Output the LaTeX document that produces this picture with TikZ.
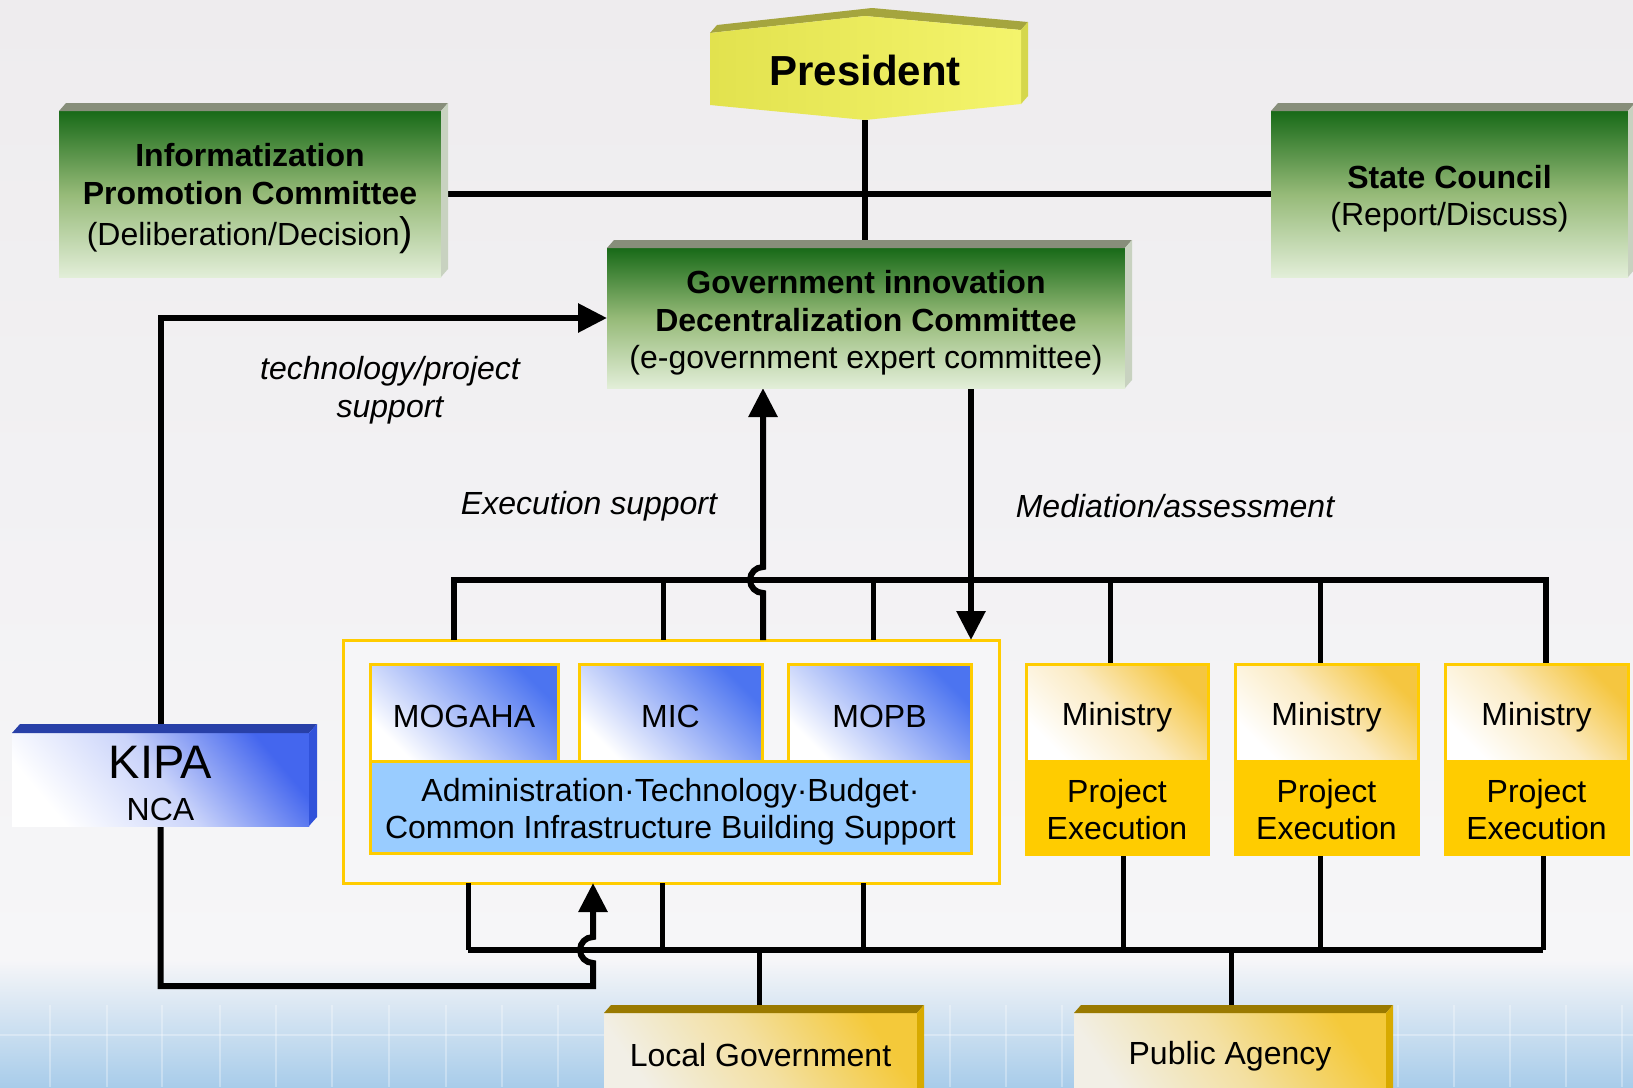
\documentclass[tikz,border=0pt]{standalone}
\usepackage{fontspec}
\setmainfont{Liberation Sans}
\usetikzlibrary{arrows.meta}
\definecolor{gtop}{HTML}{186A18}
\definecolor{gmid}{HTML}{96BA78}
\definecolor{gbot}{HTML}{E2EED8}
\definecolor{gbev}{HTML}{878E7A}
\definecolor{gside}{HTML}{C8D2C0}
\definecolor{gold}{HTML}{FFCC00}
\definecolor{bblue}{HTML}{4C74F0}
\definecolor{kblue}{HTML}{4466EE}
\definecolor{kbev}{HTML}{2840A8}
\definecolor{kside}{HTML}{3152DA}
\definecolor{lblue}{HTML}{99CCFF}
\definecolor{mgold}{HTML}{F5C640}
\definecolor{mlight}{HTML}{FBEBC4}
\definecolor{ybev}{HTML}{9A7A00}
\definecolor{yside}{HTML}{D8AA00}
\definecolor{ycream}{HTML}{F2EFE6}
\definecolor{ygold}{HTML}{F4C93A}
\definecolor{pleft}{HTML}{E2E24E}
\definecolor{pright}{HTML}{F4F46C}
\definecolor{pbev}{HTML}{A5A53E}
\definecolor{pside}{HTML}{D5D74C}
\definecolor{bgtop}{HTML}{EEECEE}
\definecolor{bgmid}{HTML}{F6F6F8}
\definecolor{bgbot}{HTML}{A8CCEA}
\newcommand\myfont[1]{\fontsize{#1}{37.5}\selectfont}
\newcommand\upstrut{\rule{0pt}{33pt}}
\newcommand\bevelbox[5]{%
  \fill[#4] (#1.north west) -- ++(#2,#3) -- ([shift={(#2,#3)}]#1.north east) -- (#1.north east) -- cycle;
  \fill[#5] (#1.north east) -- ++(#2,#3) -- ([shift={(#2,#3)}]#1.south east) -- (#1.south east) -- cycle;}
\begin{document}
\begin{tikzpicture}[x=1pt,y=1pt,
  box/.style={rectangle, inner sep=0pt, outer sep=0pt, align=center, font=\myfont{32}},
  greenbox/.style={box, top color=gtop, bottom color=gbot, middle color=gmid},
  bluebox/.style={box, draw=gold, line width=3pt, top color=bblue, bottom color=white, shading angle=-45},
  kipabox/.style={box, top color=kblue, bottom color=white, middle color=kblue!28!white, shading angle=-50},
  minbox/.style={box, draw=gold, line width=3pt, top color=mgold, bottom color=white, middle color=mlight, shading angle=-45},
  pebox/.style={box, fill=gold, draw=gold, line width=3pt},
  adminbox/.style={box, fill=lblue, draw=gold, line width=3pt},
  contbox/.style={box, fill=bgmid, draw=gold, line width=3pt},
  ybox/.style={box, top color=ygold, bottom color=ycream, middle color=ygold!40!ycream, shading angle=-55},
  conn/.style={line width=6pt},
  drop/.style={line width=5pt},
  busline/.style={line width=6.5pt},
  arr/.style={-{Triangle[length=29pt,width=28pt]}},
  lbl/.style={font=\myfont{32}\itshape, align=center}]
\useasboundingbox (0,0) rectangle (1633,-1087);
\clip (0,0) rectangle (1633,-1087);
% background
\fill[bgtop] (0,0) rectangle (1633,-1087);
\shade[top color=bgtop, bottom color=bgmid] (0,0) rectangle (1633,-960);
\shade[top color=bgmid, bottom color=bgbot] (0,-960) rectangle (1633,-1087);
\foreach \gx in {50,107,162,220,276,332,389,446,502,558,614,670,726,782,838,894,950,1006,1062,1118,1174,1230,1286,1342,1398,1454,1510,1566,1622}
  \draw[white, opacity=0.3, line width=1.5pt] (\gx,-1005) -- (\gx,-1087);
\draw[white, opacity=0.3, line width=1.5pt] (0,-1035) -- (1633,-1035);

% president shape
\fill[pbev] (710,-33) -- (717,-25) -- (872,-8) -- (1028,-22) -- (1021,-30) -- (865,-16) -- cycle;
\fill[pside] (1021,-30) -- (1028,-22) -- (1028,-96) -- (1021,-104) -- cycle;
\shade[left color=pleft, right color=pright] (710,-33) -- (865,-16) -- (1021,-30) -- (1021,-104) -- (865,-120) -- (710,-105) -- cycle;
\node[box, font=\fontsize{42}{42}\selectfont\bfseries, minimum width=311pt, minimum height=100pt] (pres) at (865,-70) {President};

% coordinates
\coordinate (tA) at (454,-580);
\coordinate (tB) at (663,-580);
\coordinate (tC) at (873,-580);
\coordinate (tD) at (1110,-580);
\coordinate (tE) at (1320,-580);
\coordinate (tF) at (1546,-580);
\coordinate (bA) at (468,-950);
\coordinate (bB) at (662,-950);
\coordinate (bC) at (863,-950);
\coordinate (bD) at (1123,-950);
\coordinate (bE) at (1320,-950);
\coordinate (bF) at (1543,-950);
\coordinate (bL) at (759,-950);
\coordinate (bP) at (1231,-950);
\coordinate (upx) at (763,0);
\coordinate (dnx) at (971,0);
\coordinate (kc) at (593,-986);

% nodes (positions)
\path
 node[greenbox, minimum width=382pt, minimum height=166pt] (info) at (250,-194) {}
 node[greenbox, minimum width=357pt, minimum height=166pt] (state) at (1449.5,-194) {}
 node[greenbox, minimum width=518pt, minimum height=140pt] (gov) at (866,-318) {}
 node[kipabox, minimum width=297pt, minimum height=93pt] (kipa) at (160.5,-779.5) {}
 node[contbox, minimum width=656pt, minimum height=243pt] (cont) at (671,-761.5) {}
 node[ybox, minimum width=313pt, minimum height=87pt] (local) at (760.5,-1056.5) {}
 node[ybox, minimum width=312pt, minimum height=87pt] (public) at (1230,-1056.5) {};

% connectors
\draw[conn] (pres.south) -- (pres.south |- gov.north);
\draw[conn] (info.east) -- (state.west);
\draw[conn, arr] (kipa.north) |- (gov.west);
\draw[conn, arr] (upx |- cont.north) -- ++(0,47) arc[start angle=-90, end angle=-270, radius=13] -- (upx |- gov.south);
\draw[conn, arr] (dnx |- gov.south) -- (dnx |- cont.north);
\draw[conn] (tA |- cont.north) -- (tA) -- (tF) -- ([yshift=-84pt]tF);
\draw[drop] (tB) -- (tB |- cont.north);
\draw[drop] (tC) -- (tC |- cont.north);
\draw[drop] (tD) -- ([yshift=-84pt]tD);
\draw[drop] (tE) -- ([yshift=-84pt]tE);
\draw[busline] (bA) -- (bF);
\draw[drop] (bA) -- (bA |- cont.south);
\draw[drop] (bB) -- (bB |- cont.south);
\draw[drop] (bC) -- (bC |- cont.south);
\draw[drop] (bD) -- ([yshift=96pt]bD);
\draw[drop] (bE) -- ([yshift=96pt]bE);
\draw[drop] (bF) -- ([yshift=96pt]bF);
\draw[drop] (bL) -- (bL |- local.north);
\draw[drop] (bP) -- (bP |- public.north);
\draw[conn, arr] (kipa.south) |- (kc) -- ++(0,23) arc[start angle=-90, end angle=-270, radius=13] -- (kc |- cont.south);

% boxes
\node[greenbox, minimum width=382pt, minimum height=166pt] (info) at (250,-194)
 {\upstrut\textbf{Informatization}\\\textbf{Promotion Committee}\\[4pt](Deliberation/Decision{\fontsize{40}{40}\selectfont)}};
\bevelbox{info}{7}{8}{gbev}{gside}
\node[greenbox, minimum width=357pt, minimum height=166pt] (state) at (1449.5,-194)
 {\upstrut\textbf{State Council}\\(Report/Discuss)};
\bevelbox{state}{7}{8}{gbev}{gside}
\node[greenbox, minimum width=518pt, minimum height=140pt] (gov) at (866,-318)
 {\upstrut\textbf{Government innovation}\\\textbf{Decentralization Committee}\\(e-government expert committee)};
\bevelbox{gov}{7}{8}{gbev}{gside}
\node[kipabox, minimum width=297pt, minimum height=93pt] (kipa) at (160.5,-779.5)
 {\rule{0pt}{40pt}{\fontsize{47}{47}\selectfont KIPA}\\[5pt]NCA};
\bevelbox{kipa}{8}{9}{kbev}{kside}

\node[bluebox, minimum width=188pt, minimum height=97pt] (mog) at (464,-712.5) {\rule{0pt}{30pt}MOGAHA};
\node[bluebox, minimum width=183pt, minimum height=97pt] (mic) at (670.5,-712.5) {\rule{0pt}{30pt}MIC};
\node[bluebox, minimum width=183pt, minimum height=97pt] (mopb) at (879.5,-712.5) {\rule{0pt}{30pt}MOPB};
\node[adminbox, minimum width=601pt, minimum height=92pt] (admin) at (670.5,-807)
 {\upstrut Administration·Technology·Budget·\\Common Infrastructure Building Support};

\node[minbox, minimum width=182pt, minimum height=97pt] (min1) at (1117,-712.5) {\upstrut Ministry};
\node[pebox, minimum width=182pt, minimum height=93pt] (pe1) at (1117,-807.5) {\rule{0pt}{27pt}Project\\Execution};
\node[minbox, minimum width=183pt, minimum height=97pt] (min2) at (1326.5,-712.5) {\upstrut Ministry};
\node[pebox, minimum width=183pt, minimum height=93pt] (pe2) at (1326.5,-807.5) {\rule{0pt}{27pt}Project\\Execution};
\node[minbox, minimum width=183pt, minimum height=97pt] (min3) at (1536.5,-712.5) {\upstrut Ministry};
\node[pebox, minimum width=183pt, minimum height=93pt] (pe3) at (1536.5,-807.5) {\rule{0pt}{27pt}Project\\Execution};

\node[ybox, minimum width=313pt, minimum height=87pt] (local) at (760.5,-1056.5) {\raisebox{3pt}{Local Government}};
\bevelbox{local}{7}{8}{ybev}{yside}
\node[ybox, minimum width=312pt, minimum height=87pt] (public) at (1230,-1056.5) {Public Agency};
\bevelbox{public}{7}{8}{ybev}{yside}

% labels
\node[lbl] (techlbl) at (390,-390) {technology/project\\support};
\node[lbl] (execlbl) at (589,-506) {Execution support};
\node[lbl] (medlbl) at (1175,-506) {Mediation/assessment};
\end{tikzpicture}
\end{document}
